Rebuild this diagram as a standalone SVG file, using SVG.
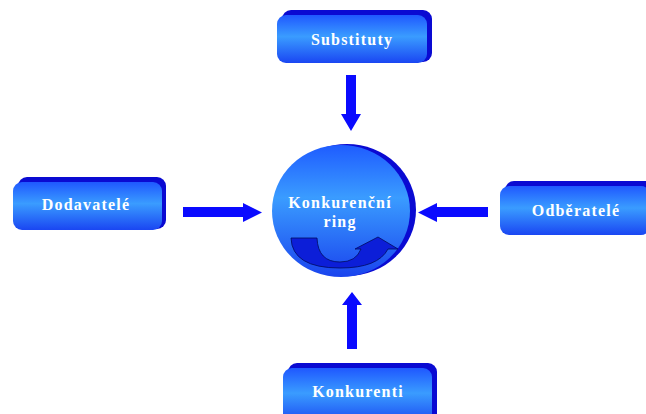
<svg xmlns="http://www.w3.org/2000/svg" width="646" height="414" viewBox="0 0 646 414">
<defs>
<linearGradient id="face" x1="0" y1="0" x2="0" y2="1">
<stop offset="0" stop-color="#1f58ff"/>
<stop offset="0.45" stop-color="#3a9cff"/>
<stop offset="1" stop-color="#1a46f2"/>
</linearGradient>
<linearGradient id="ball" x1="0" y1="0" x2="0" y2="1">
<stop offset="0" stop-color="#1f5cff"/>
<stop offset="0.4" stop-color="#3a9cff"/>
<stop offset="1" stop-color="#1a44ee"/>
</linearGradient>
</defs>
<style>
.back{fill:#0a0ad2}
.face{fill:url(#face)}
.lbl{font-family:"Liberation Serif","Times New Roman",serif;font-weight:bold;font-size:16px;letter-spacing:1.2px;fill:#ffffff;text-anchor:middle}
.arr{fill:#0a0aff}
</style>
<rect width="646" height="414" fill="#ffffff"/>
<g id="substituty">
<rect class="back" x="282" y="10" width="150" height="52" rx="9"/>
<rect class="face" x="277" y="15" width="150" height="48" rx="9"/>
<text class="lbl" x="352" y="45">Substituty</text>
</g>
<g id="dodavatele">
<rect class="back" x="18" y="177" width="148" height="52" rx="9"/>
<rect class="face" x="13" y="182" width="149" height="48" rx="9"/>
<text class="lbl" x="86" y="210">Dodavatelé</text>
</g>
<g id="odberatele">
<rect class="back" x="505" y="181" width="150" height="52" rx="9"/>
<rect class="face" x="500" y="186" width="150" height="49" rx="9"/>
<text class="lbl" x="576" y="216">Odběratelé</text>
</g>
<g id="konkurenti">
<rect class="back" x="288" y="363" width="149" height="60" rx="9"/>
<rect class="face" x="283" y="368" width="149" height="56" rx="9"/>
<text class="lbl" x="358" y="397">Konkurenti</text>
</g>
<g id="ring">
<ellipse class="back" cx="347" cy="210" rx="69" ry="66"/>
<ellipse cx="341" cy="211" rx="69" ry="66" fill="url(#ball)"/>
<text class="lbl" x="340" y="208">Konkurenční</text>
<text class="lbl" x="340" y="227">ring</text>
<path d="M291,238 L317,238 Q318,262 340,262 Q356,262 361,249 L355,249 L378,237 L398,249 L388,249 Q378,268 340,268 Q292,268 291,238 Z" fill="#0c1ed8" stroke="#000a60" stroke-width="0.8"/>
</g>
<g id="connectors">
<path class="arr" d="M346,75 L356,75 L356,114 L361,114 L351,131 L341,114 L346,114 Z"/>
<path class="arr" d="M183,207 L243,207 L243,203 L262,212.5 L243,222 L243,217 L183,217 Z"/>
<path class="arr" d="M488,207 L437,207 L437,203 L418,212.5 L437,222 L437,217 L488,217 Z"/>
<path class="arr" d="M347,349 L357,349 L357,305 L362,305 L352,292 L342,305 L347,305 Z"/>
</g>
</svg>
